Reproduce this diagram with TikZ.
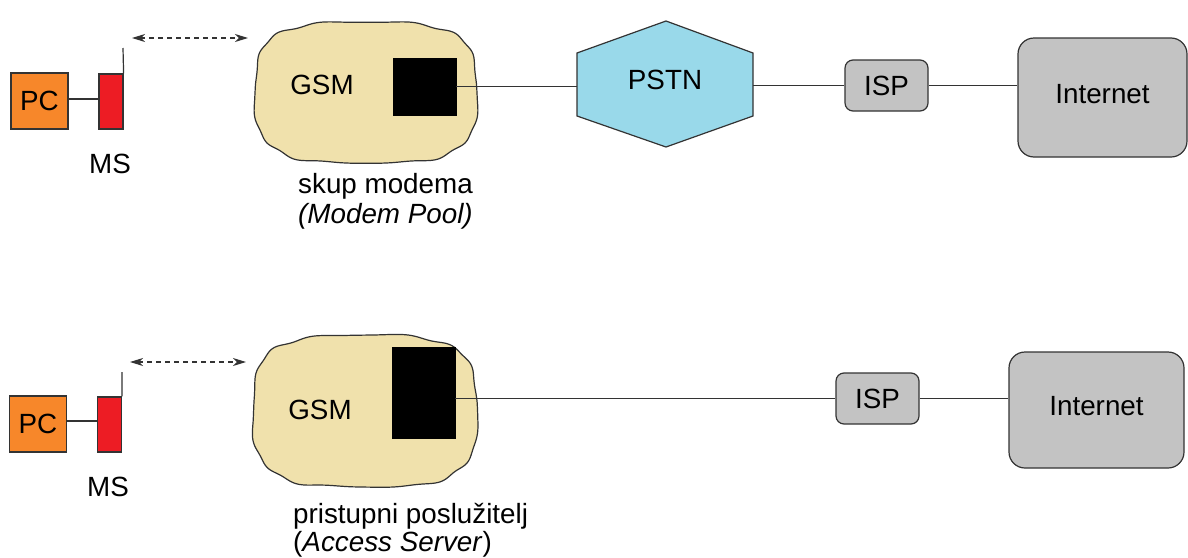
\documentclass[tikz,border=0pt]{standalone}
\usepackage{fontspec}
\setmainfont{Liberation Sans}
\usetikzlibrary{arrows.meta}
\definecolor{pcorange}{HTML}{F7872A}
\definecolor{msred}{HTML}{ED1C24}
\definecolor{cloudfill}{HTML}{F0E1AC}
\definecolor{pstnblue}{HTML}{99D9EA}
\definecolor{boxgray}{HTML}{C3C3C3}
\definecolor{edge}{HTML}{333333}
\tikzset{
  txt/.style={font=\fontsize{27.8pt}{32pt}\selectfont, inner sep=0pt},
  pcbox/.style={txt, draw=edge, line width=1.2pt, fill=pcorange, minimum width=57pt, minimum height=56pt},
  msbox/.style={draw=edge, line width=1.2pt, fill=msred, minimum width=24pt, minimum height=55pt, inner sep=0pt},
  modem/.style={fill=black, draw=black, inner sep=0pt},
  ispbox/.style={txt, draw=edge, line width=1.2pt, fill=boxgray, rounded corners=8pt, minimum width=83pt, minimum height=51pt},
  inetbox/.style={txt, draw=edge, line width=1.2pt, fill=boxgray, rounded corners=16pt, text depth=8pt},
  link/.style={draw=edge, line width=1.2pt},
  radio/.style={draw=edge, line width=1.3pt, dash pattern=on 5pt off 4pt, {Stealth[length=13pt,width=8pt,inset=4pt]}-{Stealth[length=13pt,width=8pt,inset=4pt]}},
  cloudshape/.style={draw=edge, line width=1.2pt, fill=cloudfill},
}
\begin{document}
\begin{tikzpicture}[x=1pt,y=-1pt]
\useasboundingbox (0,0) rectangle (1188,557);

% ---------------- top row ----------------
\node[pcbox] (pc1) at (39.5,101) {PC};
\node[msbox] (ms1) at (111,101.5) {};
\draw[link] (pc1.east |- 0,99) -- (ms1.west |- 0,99);
\coordinate (ant1) at (123,48);
\draw[link] (ms1.north east) -- (ant1);
\node[txt] (mslab1) at (110,164) {MS};
\coordinate (r1a) at (132,38);
\coordinate (r1b) at (248,38);
\draw[radio] (r1a) -- (r1b);

\draw[cloudshape] plot[domain=0:358.5, samples=240, smooth cycle]
  ({366 + (111 + 0.9*sin(13*\x) + 0.6*sin(7*\x))*cos(\x)*pow(abs(cos(\x))+0.001,-0.4)},
   {92.5 + (70.5 + 0.9*sin(13*\x) + 0.6*sin(7*\x))*sin(\x)*pow(abs(sin(\x))+0.001,-0.4)});
\node[txt] (gsm1) at (322,85) {GSM};
\node[modem, minimum width=63pt, minimum height=57pt] (mod1) at (424.5,86.5) {};
\node[txt, anchor=base west] (lab1a) at (298,193) {skup modema};
\node[txt, anchor=base west] (lab1b) at (298,223) {\itshape (Modem Pool)};

\draw[draw=edge, line width=1.2pt, fill=pstnblue]
  (577,53) -- (666,21) -- (753,53) -- (753,116) -- (666,147) -- (577,116) -- cycle;
\node[txt, minimum width=176pt, minimum height=63pt] (pstn) at (665,80) {PSTN};

\node[ispbox] (isp1) at (886.5,85.5) {ISP};
\node[inetbox, minimum width=169pt, minimum height=119pt] (inet1) at (1102.5,97.5) {Internet};

\draw[link] (mod1.east) -- (pstn.west |- mod1.east);
\draw[link] (pstn.east |- isp1.west) -- (isp1.west);
\draw[link] (isp1.east) -- (isp1.east -| inet1.west);

% ---------------- bottom row ----------------
\node[pcbox] (pc2) at (38,424) {PC};
\node[msbox] (ms2) at (109.5,424.5) {};
\draw[link] (pc2.east |- 0,421) -- (ms2.west |- 0,421);
\coordinate (ant2) at (122,372);
\draw[link] (ms2.north east) -- (ant2);
\node[txt] (mslab2) at (108,487) {MS};
\coordinate (r2a) at (130,362);
\coordinate (r2b) at (246,362);
\draw[radio] (r2a) -- (r2b);

\draw[cloudshape] plot[domain=0:358.5, samples=240, smooth cycle]
  ({365 + (112 + 0.9*sin(13*\x+40) + 0.6*sin(7*\x))*cos(\x)*pow(abs(cos(\x))+0.001,-0.4)},
   {411 + (76 + 0.9*sin(13*\x+40) + 0.6*sin(7*\x))*sin(\x)*pow(abs(sin(\x))+0.001,-0.4)});
\node[txt] (gsm2) at (320,410) {GSM};
\node[modem, minimum width=63pt, minimum height=91pt] (mod2) at (423.5,392.5) {};
\node[txt, anchor=base west] (lab2a) at (293,523) {pristupni poslužitelj};
\node[txt, anchor=base west] (lab2b) at (293,551) {(\textit{Access Server})};

\node[ispbox] (isp2) at (877.5,398.5) {ISP};
\node[inetbox, minimum width=175pt, minimum height=116pt] (inet2) at (1096.5,410) {Internet};

\draw[link] (isp2.west -| mod2.east) -- (isp2.west);
\draw[link] (isp2.east) -- (isp2.east -| inet2.west);
\end{tikzpicture}
\end{document}
